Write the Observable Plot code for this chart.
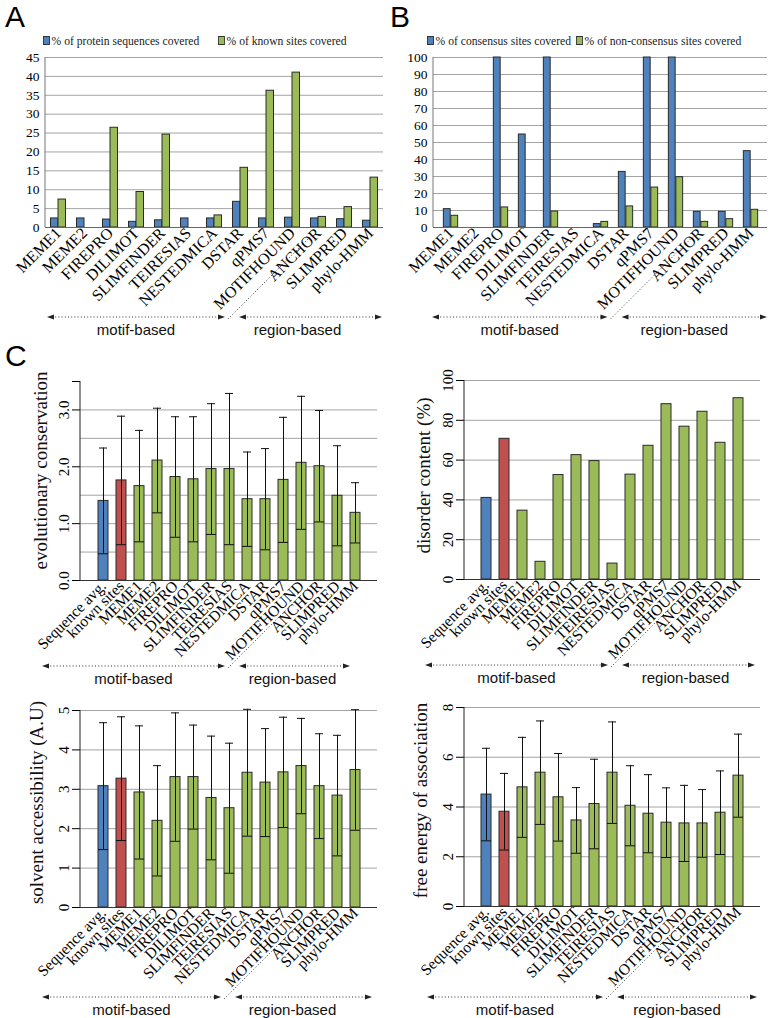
<!DOCTYPE html>
<html><head><meta charset="utf-8">
<script src="https://cdn.jsdelivr.net/npm/d3@7"></script>
<script src="https://cdn.jsdelivr.net/npm/@observablehq/plot@0.6"></script>
<style>
body{margin:0;background:#fff;}
#root{position:relative;width:771px;height:1018px;overflow:hidden;font-family:"Liberation Serif","Times New Roman",serif;color:#000;}
.panel{position:absolute;}
.letter{position:absolute;font-family:"Liberation Sans",Arial,sans-serif;font-size:30px;line-height:30px;}
.legend{position:absolute;font-size:13.5px;line-height:14px;white-space:nowrap;color:#222;transform:scaleX(0.86);transform-origin:0 50%;}
.sw{display:inline-block;width:6px;height:7px;border:1px solid #333;margin-right:2px;vertical-align:0px;}
.ab g[aria-label^="y-axis"] text{font-size:13.5px;}
.cc g[aria-label^="y-axis"] text{font-size:15px;}
</style>
</head><body><div id="root"></div>
<script>
// ---------- data ----------
const toolsAB = ["MEME1","MEME2","FIREPRO","DILIMOT","SLIMFINDER","TEIRESIAS","NESTEDMICA","DSTAR","qPMS7","MOTIFHOUND","ANCHOR","SLIMPRED","phylo-HMM"];
const seqCovered   = [2.4,2.4,2.1,1.5,1.9,2.4,2.4,6.8,2.4,2.6,2.4,2.2,1.8];
const knownCovered = [7.4,0,26.4,9.4,24.6,0,3.2,15.8,36.2,41.0,2.8,5.4,13.2];
const consensusCovered    = [10.8,0,100,54.7,100,0,2.0,32.7,100,100,9.2,9.2,44.9];
const nonConsensusCovered = [6.9,0,11.8,0,9.4,0,3.3,12.4,23.5,29.6,3.3,4.9,10.4];
const legendA = ["% of protein sequences covered","% of known sites covered"];
const legendB = ["% of consensus sites covered","% of non-consensus sites covered"];
const ticksA = [0,5,10,15,20,25,30,35,40,45];
const ticksB = [0,10,20,30,40,50,60,70,80,90,100];

const toolsC = ["Sequence avg.","known sites","MEME1","MEME2","FIREPRO","DILIMOT","SLIMFINDER","TEIRESIAS","NESTEDMICA","DSTAR","qPMS7","MOTIFHOUND","ANCHOR","SLIMPRED","phylo-HMM"];
const consMean = [1.40,1.76,1.66,2.11,1.82,1.78,1.96,1.96,1.43,1.43,1.77,2.07,2.01,1.49,1.19];
const consSd   = [0.93,1.13,0.98,0.92,1.06,1.10,1.15,1.33,0.83,0.89,1.10,1.17,0.98,0.88,0.53];
const disorder = [41.0,70.7,34.6,8.9,52.5,62.5,59.5,8.0,52.7,67.2,88.1,76.8,84.3,68.7,91.1];
const solvMean = [3.08,3.27,2.92,2.20,3.31,3.31,2.78,2.52,3.42,3.17,3.43,3.59,3.08,2.84,3.49];
const solvSd   = [1.61,1.57,1.69,1.40,1.63,1.32,1.57,1.65,1.61,1.37,1.40,1.21,1.33,1.53,1.53];
const energyMean = [4.50,3.81,4.79,5.38,4.39,3.46,4.12,5.38,4.05,3.73,3.37,3.34,3.34,3.77,5.26];
const energySd   = [1.86,1.54,2.01,2.08,1.76,1.32,1.80,2.04,1.61,1.57,1.40,1.53,1.36,1.68,1.67];
const consTicks = [0,1,2,3,3.5], consGrid = [0.5,1,1.5,2,2.5,3];
const disTicks = [0,20,40,60,80,100], disGrid = [20,40,60,80,100];
const solvTicks = [0,1,2,3,4,5], solvGrid = [1,2,3,4,5];
const energyTicks = [0,2,4,6,8], energyGrid = [2,4,6,8];
const yLabels = ["evolutionary conservation","disorder content (%)","solvent accessibility (A.U)","free energy of association"];
const groupLabels = ["motif-based","region-based"];

// ---------- styles ----------
const BLUE = "#4F81BD", GREEN = "#9BBB59", RED = "#C0504D", EDGE = "#2a2a2a", GRID = "#a3a3a3";
const root = document.getElementById("root");

function place(el, left, top, cls) {
  const d = document.createElement("div");
  d.className = "panel " + (cls || "");
  d.style.left = left + "px"; d.style.top = top + "px";
  d.appendChild(el); root.appendChild(d);
}
function html(cls, left, top, inner) {
  const d = document.createElement("div");
  d.className = cls; d.style.left = left + "px"; d.style.top = top + "px";
  d.innerHTML = inner; root.appendChild(d);
}

function axisLine(svg, plot, color) {
  const sx = plot.scale("x"), sy = plot.scale("y");
  const x0 = sx.range[0];
  d3.select(svg).append("line").attr("x1", x0).attr("x2", x0)
    .attr("y1", sy.range[1]).attr("y2", sy.range[0]).attr("stroke", color).attr("stroke-width", 1);
}

function annotate(svg, plot, o) {
  const sx = plot.scale("x"), sy = plot.scale("y");
  const [r0, r1] = sx.range;
  const axisY = sy.apply(0);
  const ay = axisY + o.drop;
  const sep = sx.apply("ANCHOR") + sx.bandwidth / 2 - o.drop + o.sepShift;
  const g = d3.select(svg).append("g");
  const segs = [[r0 + o.l, sep - 3], [sep + 11, r1 + o.r]];
  segs.forEach(([a, b], i) => {
    g.append("line").attr("x1", a + 5).attr("x2", b - 5).attr("y1", ay).attr("y2", ay)
      .attr("stroke", "#333").attr("stroke-dasharray", "1,2.2");
    g.append("path").attr("d", `M${a},${ay}L${a+7},${ay-2.6}L${a+7},${ay+2.6}Z`).attr("fill", "#222");
    g.append("path").attr("d", `M${b},${ay}L${b-7},${ay-2.6}L${b-7},${ay+2.6}Z`).attr("fill", "#222");
    g.append("text").attr("x", (a + b) / 2 + (i ? o.rdx : 0)).attr("y", ay + 12)
      .attr("text-anchor", "middle").attr("dominant-baseline", "central")
      .style("font-family", '"Liberation Sans", Arial, sans-serif').style("font-size", "15px")
      .attr("fill", "#111").text(groupLabels[i]);
  });
  const L = o.drop - 6;
  g.append("line").attr("x1", sep).attr("y1", ay + 2).attr("x2", sep + L).attr("y2", ay + 2 - L)
    .attr("stroke", "#333").attr("stroke-dasharray", "1,2.2");
}

// ---------- panels A and B ----------
function grouped(cfg) {
  const n = toolsAB.length;
  const bw = (cfg.width - cfg.ml - cfg.mr) / n;
  const half = 7.5;
  const d1 = toolsAB.map((t, i) => ({t, v: cfg.s1[i]})).filter(d => d.v > 0);
  const d2 = toolsAB.map((t, i) => ({t, v: cfg.s2[i]})).filter(d => d.v > 0);
  const plot = Plot.plot({
    width: cfg.width, height: cfg.height,
    marginLeft: cfg.ml, marginRight: cfg.mr, marginTop: cfg.mt, marginBottom: cfg.mb,
    style: {fontFamily: '"Liberation Serif", "Times New Roman", serif', fontSize: "16px", color: "#000", background: "transparent", overflow: "visible"},
    x: {domain: toolsAB, padding: 0, tickRotate: -45, tickSize: 0, tickPadding: 3, label: null},
    y: {domain: cfg.domain, ticks: cfg.ticks, tickSize: 0, tickPadding: 6, label: null},
    marks: [
      Plot.ruleY(cfg.ticks.filter(v => v > 0), {stroke: GRID, strokeWidth: 1}),
      Plot.barY(d1, {x: "t", y: "v", fill: BLUE, stroke: EDGE, strokeWidth: 1, insetLeft: bw / 2 - half, insetRight: bw / 2}),
      Plot.barY(d2, {x: "t", y: "v", fill: GREEN, stroke: EDGE, strokeWidth: 1, insetLeft: bw / 2, insetRight: bw / 2 - half}),
      Plot.ruleY([0], {stroke: "#666"})
    ]
  });
  axisLine(plot, plot, "#777");
  annotate(plot, plot, cfg.ann);
  place(plot, cfg.left, cfg.top, "ab");
}

grouped({left: 0, top: 45, width: 385, height: 295, ml: 45, mr: 2, mt: 12, mb: 113,
  s1: seqCovered, s2: knownCovered, domain: [0, 45], ticks: ticksA,
  ann: {drop: 90, sepShift: 0, l: 2, r: -1, rdx: -13}});
grouped({left: 385, top: 45, width: 386, height: 295, ml: 48, mr: 4, mt: 12, mb: 113,
  s1: consensusCovered, s2: nonConsensusCovered, domain: [0, 100], ticks: ticksB,
  ann: {drop: 90, sepShift: 0, l: -1, r: 0, rdx: -10}});

// ---------- panel C ----------
function colorOf(name) { return name === toolsC[0] ? BLUE : name === toolsC[1] ? RED : GREEN; }

function single(cfg) {
  const data = toolsC.map((name, i) => ({name, m: cfg.mean[i], sd: cfg.sd ? cfg.sd[i] : 0}));
  const marks = [
    Plot.ruleY(cfg.grid, {stroke: GRID, strokeWidth: 1}),
    Plot.barY(data, {x: "name", y: "m", fill: d => colorOf(d.name), stroke: EDGE, strokeWidth: 1})
  ];
  if (cfg.sd) marks.push(
    Plot.ruleX(data, {x: "name", y1: d => d.m - d.sd, y2: d => d.m + d.sd, stroke: "#111", strokeWidth: 1}),
    Plot.tickY(data, {x: "name", y: d => d.m + d.sd, stroke: "#111", strokeWidth: 1, insetLeft: 1, insetRight: 1}),
    Plot.tickY(data, {x: "name", y: d => d.m - d.sd, stroke: "#111", strokeWidth: 1})
  );
  marks.push(Plot.ruleY([0], {stroke: "#333"}));
  const plot = Plot.plot({
    width: cfg.width, height: cfg.height,
    marginLeft: cfg.ml, marginRight: cfg.mr, marginTop: cfg.mt, marginBottom: cfg.mb,
    style: {fontFamily: '"Liberation Serif", "Times New Roman", serif', fontSize: "15.5px", color: "#000", background: "transparent", overflow: "visible"},
    x: {domain: toolsC, paddingInner: 0.47, paddingOuter: 0.56, tickRotate: -45, tickSize: 0, tickPadding: 3, label: null},
    y: {domain: cfg.domain, ticks: cfg.ticks, tickFormat: cfg.fmt, tickRotate: -90, tickSize: 8, tickPadding: 4, label: null},
    marks
  });
  axisLine(plot, plot, "#222");
  const sy = plot.scale("y");
  d3.select(plot).append("text")
    .attr("transform", `translate(${cfg.labelX},${(sy.range[0] + sy.range[1]) / 2 + cfg.labelDy}) rotate(-90)`)
    .attr("text-anchor", "middle").attr("dominant-baseline", "central")
    .style("font-size", "19px").attr("fill", "#111").text(cfg.label);
  annotate(plot, plot, cfg.ann);
  place(plot, cfg.left, cfg.top, "cc");
}

single({left: 0, top: 370, width: 385, height: 320, ml: 80, mr: 8, mt: 11, mb: 110,
  mean: consMean, sd: consSd, domain: [0, 3.5], ticks: consTicks, grid: consGrid,
  fmt: d => d === 3.5 ? "" : d.toFixed(1), label: yLabels[0], labelX: 40, labelDy: -10,
  ann: {drop: 86, sepShift: -5, l: -38, r: -27, rdx: -2}});
single({left: 385, top: 370, width: 386, height: 320, ml: 79, mr: 11, mt: 10, mb: 111,
  mean: disorder, sd: null, domain: [0, 100], ticks: disTicks, grid: disGrid,
  fmt: d => String(d), label: yLabels[1], labelX: 38, labelDy: -4,
  ann: {drop: 86, sepShift: -5, l: -39, r: -5, rdx: -3}});
single({left: 0, top: 695, width: 385, height: 323, ml: 80, mr: 8, mt: 15, mb: 111,
  mean: solvMean, sd: solvSd, domain: [0, 5], ticks: solvTicks, grid: solvGrid,
  fmt: d => String(d), label: yLabels[2], labelX: 36, labelDy: -6,
  ann: {drop: 90, sepShift: -5, l: -38, r: -5, rdx: -11}});
single({left: 385, top: 695, width: 386, height: 323, ml: 79, mr: 11, mt: 12, mb: 112,
  mean: energyMean, sd: energySd, domain: [0, 8], ticks: energyTicks, grid: energyGrid,
  fmt: d => String(d), label: yLabels[3], labelX: 35, labelDy: -6,
  ann: {drop: 91, sepShift: -5, l: -37, r: -3, rdx: -10}});

// ---------- letters and legends ----------
html("letter", 5, 2, "A");
html("letter", 390, 2, "B");
html("letter", 5, 341, "C");
html("legend", 43, 34, `<span class="sw" style="background:${BLUE}"></span>${legendA[0]}`);
html("legend", 218, 34, `<span class="sw" style="background:${GREEN}"></span>${legendA[1]}`);
html("legend", 427, 34, `<span class="sw" style="background:${BLUE}"></span>${legendB[0]}`);
html("legend", 576, 34, `<span class="sw" style="background:${GREEN}"></span>${legendB[1]}`);
</script>
</body></html>
